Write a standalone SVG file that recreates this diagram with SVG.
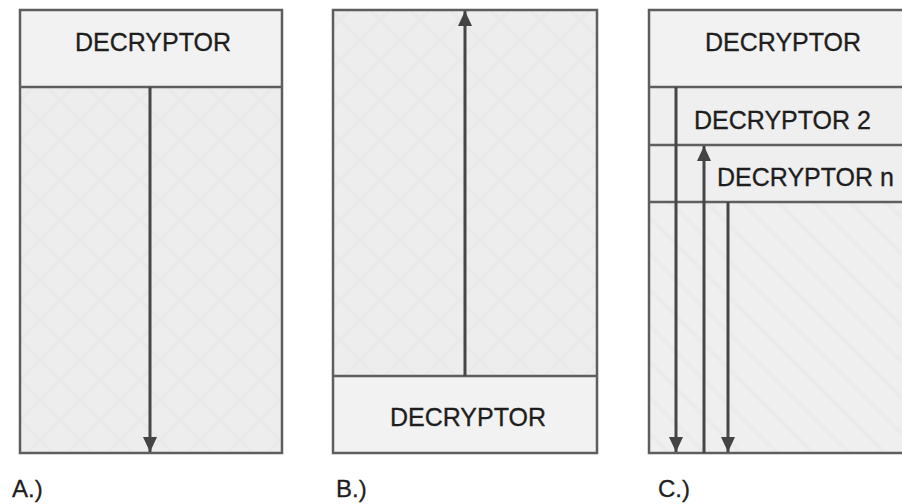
<svg xmlns="http://www.w3.org/2000/svg" width="902" height="504" viewBox="0 0 902 504">
<style>
.body{fill:url(#hatch);stroke:none}
.hdr{fill:#f2f2f2;stroke:none}
.edge{stroke:#5e5e5e;stroke-width:2.5;fill:none}
.arr{stroke:#464646;stroke-width:3;fill:none}
.t{font-family:"Liberation Sans",Arial,sans-serif;font-size:25px;fill:#1e1e1e;stroke:#1e1e1e;stroke-width:0.3}
.lbl{font-family:"Liberation Sans",Arial,sans-serif;font-size:24px;fill:#1e1e1e;stroke:#1e1e1e;stroke-width:0.3}
</style>
<defs>
<pattern id="hatch" width="40" height="40" patternUnits="userSpaceOnUse">
<rect width="40" height="40" fill="#ededed"/>
<path d="M0 0L40 40M40 0L0 40" stroke="#e9e9e9" stroke-width="3"/>
</pattern>
<pattern id="hatch2" width="36" height="36" patternUnits="userSpaceOnUse">
<rect width="36" height="36" fill="#efefef"/>
<path d="M-9 27L9 45M0 0L36 36M27 -9L45 9" stroke="#ebebeb" stroke-width="4"/>
</pattern>
<marker id="ah" viewBox="0 0 15 14" refX="15" refY="7" markerWidth="15" markerHeight="14" markerUnits="userSpaceOnUse" orient="auto">
<path d="M0 0L15 7L0 14z" fill="#444"/>
</marker>
</defs>

<g id="panelA">
<rect class="body" x="20" y="87" width="262" height="366"/>
<rect class="hdr" x="20" y="10" width="262" height="77"/>
<path class="edge" d="M20 10H282V453H20Z M20 87H282"/>
<text class="t" x="153" y="51" text-anchor="middle">DECRYPTOR</text>
<text class="lbl" x="12" y="497">A.)</text>
</g>

<g id="panelB">
<rect class="body" x="333" y="10" width="264" height="366"/>
<rect class="hdr" x="333" y="376" width="264" height="77"/>
<path class="edge" d="M333 10H597V453H333Z M333 376H597"/>
<text class="t" x="468" y="426" text-anchor="middle">DECRYPTOR</text>
<text class="lbl" x="336" y="497">B.)</text>
</g>

<g id="panelC">
<rect x="649" y="87" width="260" height="366" fill="url(#hatch2)"/>
<rect class="hdr" x="649" y="10" width="260" height="77"/>
<rect x="649" y="87" width="260" height="115" fill="#efefef"/>
<path class="edge" d="M904 10H649V453H904 M649 87H904 M649 145H904 M649 202H904"/>
<text class="t" x="705" y="51">DECRYPTOR</text>
<text class="t" x="694" y="129">DECRYPTOR 2</text>
<text class="t" x="717" y="186">DECRYPTOR n</text>
<text class="lbl" x="658" y="497">C.)</text>
</g>

<g id="connectors">
<line class="arr" x1="150" y1="87" x2="150" y2="452" marker-end="url(#ah)"/>
<line class="arr" x1="465" y1="376" x2="465" y2="11" marker-end="url(#ah)"/>
<line class="arr" x1="676" y1="87" x2="676" y2="452" marker-end="url(#ah)"/>
<line class="arr" x1="704" y1="453" x2="704" y2="146" marker-end="url(#ah)"/>
<line class="arr" x1="728" y1="202" x2="728" y2="452" marker-end="url(#ah)"/>
</g>
</svg>
